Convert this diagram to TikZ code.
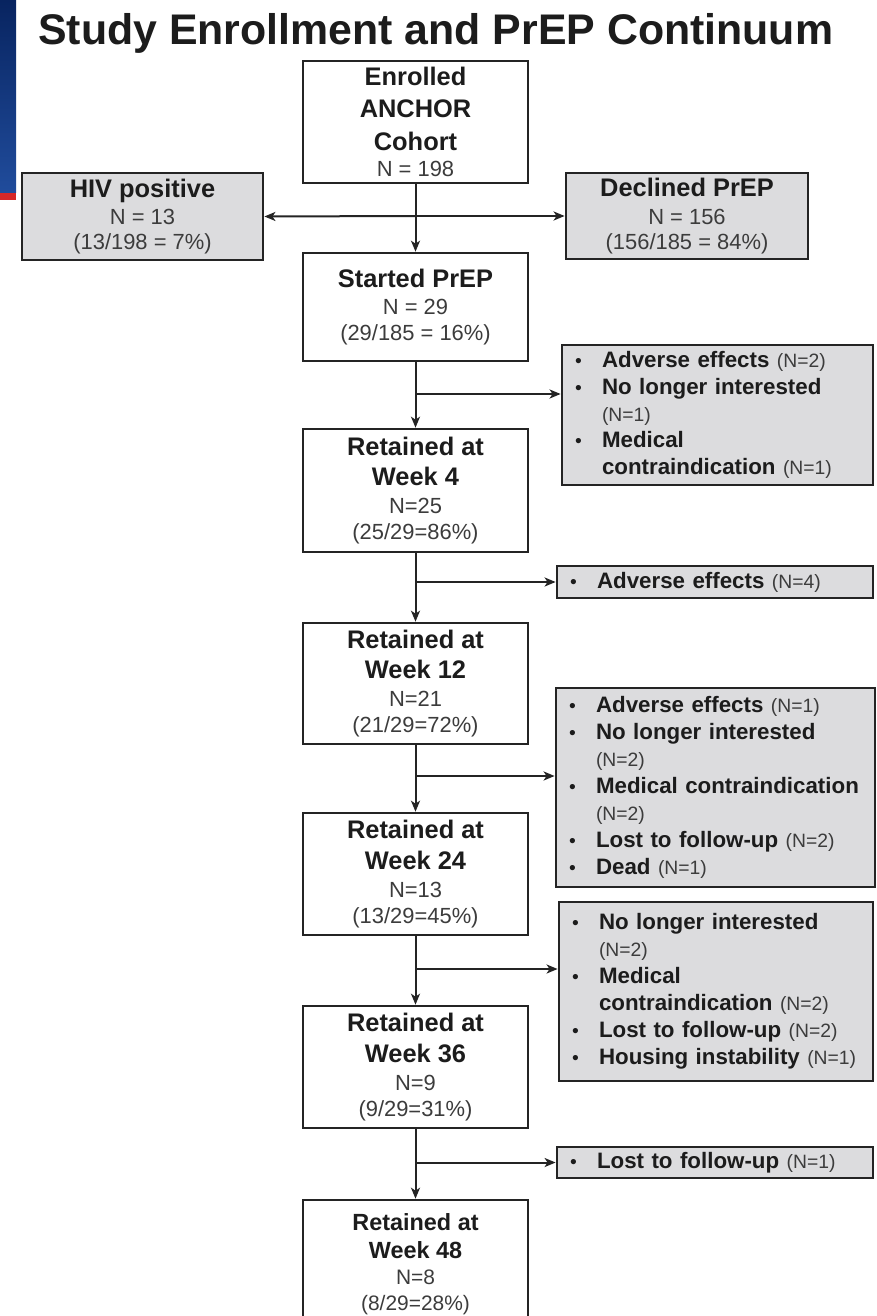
\documentclass[tikz,border=0pt]{standalone}
\usepackage{fontspec}
\setmainfont{Liberation Sans}
\usetikzlibrary{arrows.meta}
\definecolor{boxgray}{RGB}{220,220,222}
\definecolor{edge}{RGB}{36,36,36}
\definecolor{ink}{RGB}{28,28,28}
\definecolor{inkl}{RGB}{60,60,60}
\definecolor{navytop}{RGB}{8,36,96}
\definecolor{navybot}{RGB}{32,76,156}
\definecolor{redbar}{RGB}{214,40,40}
\newcommand\bl[1]{{\fontsize{25.5}{26}\selectfont\bfseries\color{ink}#1}}
\newcommand\rg[1]{{\fontsize{22}{26}\selectfont\color{inkl}#1}}
\newcommand\bs[1]{{\fontsize{23.5}{26}\selectfont\bfseries\color{ink}#1}}
\newcommand\rs[1]{{\fontsize{21}{26}\selectfont\color{inkl}#1}}
\newcommand\nn[1]{{\fontsize{19.4}{27}\selectfont\color{inkl}#1}}
\newcommand\bi[2]{\mbox{\makebox[27bp][l]{\fontsize{19.4}{27}\selectfont\color{ink}\textbullet}{\bfseries\color{ink}#1}#2}}
\newcommand\ci[1]{\mbox{\hspace*{27bp}#1}}
\tikzset{
  mainbox/.style={draw=edge, line width=2.6bp, fill=white, minimum width=225bp, inner sep=0pt, align=center, text=ink, font=\fontsize{22}{26}\selectfont},
  sidebox/.style={draw=edge, line width=2.8bp, fill=boxgray, inner sep=0pt, align=center, text=ink, font=\fontsize{22}{26}\selectfont},
  listbox/.style={draw=edge, line width=2.8bp, fill=boxgray, inner xsep=13bp, inner ysep=0pt, align=left, text=ink, font=\fontsize{22.4}{27}\selectfont},
  conn/.style={draw=edge, line width=2bp},
  arr/.style={conn, -{Stealth[length=11bp,width=9bp,inset=3bp]}}
}
\begin{document}
\begin{tikzpicture}[x=1bp,y=-1bp]
\useasboundingbox (0,0) rectangle (876,1316);
\fill[white] (0,0) rectangle (876,1316);
\clip (0,0) rectangle (876,1316);
% slide decoration
\fill[top color=navytop,bottom color=navybot] (0,0) rectangle (16,193);
\fill[redbar] (0,193) rectangle (16,200);
% title
\node[anchor=base west, inner sep=0pt, text=ink, font=\fontsize{43}{50}\selectfont\bfseries] (title) at (38,45) {Study Enrollment and PrEP Continuum};
% main column
\node[mainbox, minimum height=122bp] (enr) at (415.5,122) {\bl{Enrolled}\\[6bp]\bl{ANCHOR}\\[7bp]\bl{Cohort}\\[1bp]\rg{N = 198}};
\node[mainbox, minimum height=108bp] (start) at (415.5,307) {\bl{Started PrEP}\\[1bp]\rg{N = 29}\\\rg{(29/185 = 16\%)}};
\node[mainbox, minimum height=123bp] (w4) at (415.5,490.5) {\bl{Retained at}\\[5bp]\bl{Week 4}\\[2bp]\rg{N=25}\\\rg{(25/29=86\%)}};
\node[mainbox, minimum height=121bp] (w12) at (415.5,683.5) {\bl{Retained at}\\[5bp]\bl{Week 12}\\[2bp]\rg{N=21}\\\rg{(21/29=72\%)}};
\node[mainbox, minimum height=122bp] (w24) at (415.5,874) {\bl{Retained at}\\[5bp]\bl{Week 24}\\[2bp]\rg{N=13}\\\rg{(13/29=45\%)}};
\node[mainbox, minimum height=122bp] (w36) at (415.5,1067) {\bl{Retained at}\\[5bp]\bl{Week 36}\\[2bp]\rg{N=9}\\\rg{(9/29=31\%)}};
\node[mainbox, minimum height=128bp] (w48) at (415.5,1264) {\bs{Retained at}\\[2bp]\bs{Week 48}\\\rs{N=8}\\\rs{(8/29=28\%)}};
% side boxes
\node[sidebox, minimum width=241bp, minimum height=87bp] (hiv) at (142.5,216.5) {\bl{HIV positive}\\[2bp]\rg{N = 13}\\[-1bp]\rg{(13/198 = 7\%)}};
\node[sidebox, minimum width=242bp, minimum height=86bp] (dec) at (687,216) {\bl{Declined PrEP}\\[2bp]\rg{N = 156}\\[-1bp]\rg{(156/185 = 84\%)}};
\node[listbox, text width=285bp, minimum height=140bp] (ae1) at (717.5,415) {\bi{Adverse effects}{ \nn{(N=2)}}\\
\bi{No longer interested}{}\\
\ci{\nn{(N=1)}}\\
\bi{Medical}{}\\
\ci{\textbf{contraindication} \nn{(N=1)}}};
\node[listbox, text width=290bp, minimum height=32bp] (ae2) at (715,582) {\bi{Adverse effects}{ \nn{(N=4)}}};
\node[listbox, text width=293bp, minimum height=199bp] (ae3) at (715.5,787.5) {\bi{Adverse effects}{ \nn{(N=1)}}\\
\bi{No longer interested}{}\\
\ci{\nn{(N=2)}}\\
\bi{Medical contraindication}{}\\
\ci{\nn{(N=2)}}\\
\bi{Lost to follow-up}{ \nn{(N=2)}}\\
\bi{Dead}{ \nn{(N=1)}}};
\node[listbox, text width=288bp, minimum height=179bp] (ae4) at (716,991.5) {\bi{No longer interested}{}\\
\ci{\nn{(N=2)}}\\
\bi{Medical}{}\\
\ci{\textbf{contraindication} \nn{(N=2)}}\\
\bi{Lost to follow-up}{ \nn{(N=2)}}\\
\bi{Housing instability}{ \nn{(N=1)}}};
\node[listbox, text width=290bp, minimum height=31bp] (lost) at (715,1162.5) {\bi{Lost to follow-up}{ \nn{(N=1)}}};
% junctions
\coordinate (j0) at (415.5,216);
\coordinate (j1) at (415.5,394);
\coordinate (j2) at (415.5,582);
\coordinate (j3) at (415.5,776);
\coordinate (j4) at (415.5,969);
\coordinate (j5) at (415.5,1162.5);
% connectors
\draw[arr] (enr.south) -- (start.north);
\draw[arr] (j0) -- (hiv.east);
\draw[arr] (j0) -- (dec.west);
\draw[arr] (start.south) -- (w4.north);
\draw[arr] (j1) -- (j1 -| ae1.west);
\draw[arr] (w4.south) -- (w12.north);
\draw[arr] (j2) -- (ae2.west);
\draw[arr] (w12.south) -- (w24.north);
\draw[arr] (j3) -- (j3 -| ae3.west);
\draw[arr] (w24.south) -- (w36.north);
\draw[arr] (j4) -- (j4 -| ae4.west);
\draw[arr] (w36.south) -- (w48.north);
\draw[arr] (j5) -- (lost.west);
\end{tikzpicture}
\end{document}
